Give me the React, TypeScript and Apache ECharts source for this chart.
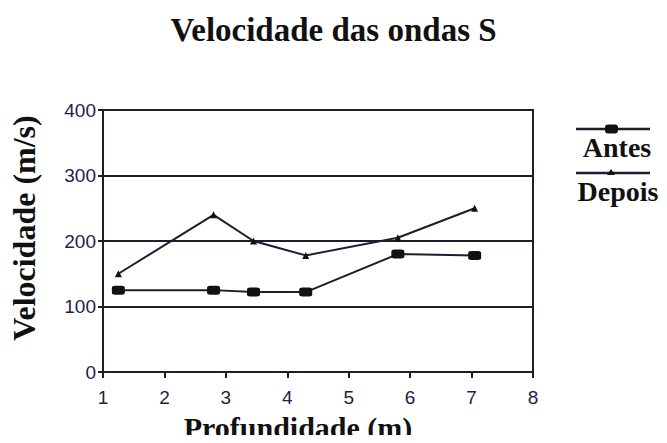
import React, { useEffect, useRef } from "react";
import * as echarts from "echarts";

const titleText = "Velocidade das ondas S";
const xName = "Profundidade (m)";
const yName = "Velocidade (m/s)";
const seriesNames = ["Antes", "Depois"];
const antesData: [number, number][] = [
  [1.25, 125],
  [2.8, 125],
  [3.45, 122],
  [4.3, 122],
  [5.8, 180],
  [7.05, 178],
];
const depoisData: [number, number][] = [
  [1.25, 150],
  [2.8, 240],
  [3.45, 200],
  [4.3, 178],
  [5.8, 205],
  [7.05, 250],
];
const xMin = 1;
const xMax = 8;
const yMin = 0;
const yMax = 400;
const yStep = 100;

const INK = "#1d1d2e";
const LABEL = "#1e1e4a";
const SERIF = "'Liberation Serif', 'Times New Roman', serif";
const SANS = "'Liberation Sans', Arial, sans-serif";

export default function App() {
  const ref = useRef<HTMLDivElement>(null);
  useEffect(() => {
    if (!ref.current) return;
    const chart = echarts.init(ref.current, undefined, { renderer: "svg" });
    chart.setOption({
      animation: false,
      backgroundColor: "#ffffff",
      title: {
        text: titleText,
        left: "center",
        top: 8,
        textStyle: { fontFamily: SERIF, fontWeight: "bold", fontSize: 33, color: "#111" },
      },
      grid: {
        left: 103,
        right: 134,
        top: 110,
        bottom: 71,
        show: true,
        borderColor: INK,
        borderWidth: 2,
      },
      xAxis: {
        type: "value",
        min: xMin,
        max: xMax,
        interval: 1,
        axisLine: { show: true, lineStyle: { color: INK, width: 2 } },
        axisTick: { show: true, length: 6, lineStyle: { color: INK, width: 2 } },
        axisLabel: { fontFamily: SANS, fontSize: 19, color: LABEL, margin: 16 },
        splitLine: { show: false },
      },
      yAxis: {
        type: "value",
        min: yMin,
        max: yMax,
        interval: yStep,
        axisLine: { show: true, lineStyle: { color: INK, width: 2 } },
        axisTick: { show: true, length: 5, lineStyle: { color: INK, width: 2 } },
        axisLabel: { fontFamily: SANS, fontSize: 19, color: LABEL, margin: 7 },
        splitLine: { show: true, lineStyle: { color: INK, width: 2 } },
      },
      series: [
        {
          name: seriesNames[0],
          type: "line",
          data: antesData,
          symbol: "roundRect",
          symbolSize: [13, 9],
          itemStyle: { color: "#111" },
          lineStyle: { color: INK, width: 2 },
        },
        {
          name: seriesNames[1],
          type: "line",
          data: depoisData,
          symbol: "triangle",
          symbolSize: 7,
          itemStyle: { color: "#111" },
          lineStyle: { color: INK, width: 2 },
        },
      ],
      graphic: [
        {
          type: "text",
          x: 298,
          y: 427,
          style: {
            text: xName,
            fontFamily: SERIF,
            fontWeight: "bold",
            fontSize: 30,
            fill: "#111",
            align: "center",
            verticalAlign: "middle",
          },
        },
        {
          type: "text",
          x: 24,
          y: 228,
          rotation: Math.PI / 2,
          style: {
            text: yName,
            fontFamily: SERIF,
            fontWeight: "bold",
            fontSize: 32,
            fill: "#111",
            align: "center",
            verticalAlign: "middle",
          },
        },
        {
          type: "line",
          shape: { x1: 576, y1: 129, x2: 650, y2: 129 },
          style: { stroke: INK, lineWidth: 2.5 },
        },
        {
          type: "rect",
          shape: { x: 605, y: 124.5, width: 13, height: 9, r: 3 },
          style: { fill: "#111" },
        },
        {
          type: "text",
          x: 617,
          y: 147,
          style: {
            text: seriesNames[0],
            fontFamily: SERIF,
            fontWeight: "bold",
            fontSize: 28,
            fill: "#111",
            align: "center",
            verticalAlign: "middle",
          },
        },
        {
          type: "line",
          shape: { x1: 576, y1: 173, x2: 650, y2: 173 },
          style: { stroke: INK, lineWidth: 2.5 },
        },
        {
          type: "polygon",
          shape: { points: [[611, 169], [615, 175], [607, 175]] },
          style: { fill: "#111" },
        },
        {
          type: "text",
          x: 618,
          y: 191,
          style: {
            text: seriesNames[1],
            fontFamily: SERIF,
            fontWeight: "bold",
            fontSize: 28,
            fill: "#111",
            align: "center",
            verticalAlign: "middle",
          },
        },
      ],
    });
    return () => chart.dispose();
  }, []);
  return <div ref={ref} style={{ width: 667, height: 443, margin: -8 }} />;
}
